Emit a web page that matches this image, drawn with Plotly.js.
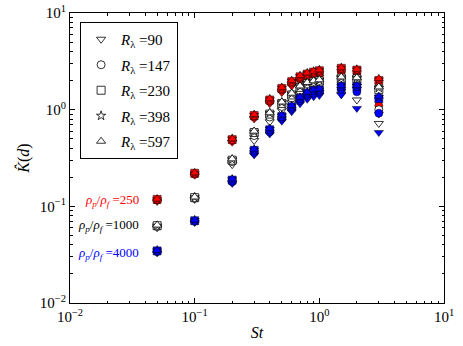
<!DOCTYPE html>
<html>
<head>
<meta charset="utf-8">
<script src="https://cdn.plot.ly/plotly-3.0.1.min.js"></script>
<style>
  html, body { margin: 0; padding: 0; background: #fff; }
  #chart { width: 463px; height: 346px; }
</style>
</head>
<body>
<div id="chart"></div>
<script>
// Stokes numbers on the x axis
const stokes = [0.05, 0.1, 0.2, 0.3, 0.4, 0.5, 0.6, 0.7, 0.8, 0.9, 1.0, 1.5, 2.0, 3.0];

// Reynolds numbers (one marker symbol each) and density ratios (one colour each)
const reynolds = [90, 147, 230, 398, 597];
const densityRatios = [250, 1000, 4000];

// K(d) for rho_p/rho_f = 250, rows follow `reynolds`
const k250 = [
  [0.112, 0.21, 0.46, 0.80, 1.15, 1.50, 1.75, 1.95, 2.05, 2.12, 2.15, 2.10, 1.75, 0.90],
  [0.116, 0.215, 0.48, 0.84, 1.22, 1.60, 1.88, 2.10, 2.22, 2.32, 2.38, 2.45, 2.25, 1.10],
  [0.118, 0.22, 0.49, 0.87, 1.26, 1.66, 1.95, 2.19, 2.34, 2.45, 2.53, 2.68, 2.57, 2.00],
  [0.118, 0.22, 0.50, 0.88, 1.28, 1.68, 1.98, 2.22, 2.38, 2.48, 2.56, 2.70, 2.60, 2.05],
  [0.119, 0.222, 0.50, 0.89, 1.30, 1.70, 2.00, 2.25, 2.40, 2.50, 2.58, 2.72, 2.62, 2.10]
];

// K(d) for rho_p/rho_f = 1000
const k1000 = [
  [0.060, 0.118, 0.27, 0.48, 0.75, 0.98, 1.18, 1.38, 1.45, 1.50, 1.52, 1.45, 1.26, 0.72],
  [0.062, 0.121, 0.29, 0.54, 0.84, 1.08, 1.32, 1.58, 1.70, 1.78, 1.82, 1.90, 1.70, 1.00],
  [0.063, 0.123, 0.30, 0.58, 0.90, 1.16, 1.42, 1.70, 1.85, 1.93, 1.98, 2.12, 2.08, 1.62],
  [0.063, 0.124, 0.305, 0.59, 0.92, 1.19, 1.46, 1.74, 1.89, 1.97, 2.02, 2.16, 2.12, 1.68],
  [0.064, 0.125, 0.31, 0.60, 0.93, 1.20, 1.48, 1.76, 1.91, 1.99, 2.04, 2.18, 2.14, 1.72]
];

// K(d) for rho_p/rho_f = 4000
const k4000 = [
  [0.033, 0.068, 0.172, 0.34, 0.56, 0.76, 0.95, 1.15, 1.28, 1.36, 1.40, 1.42, 1.03, 0.58],
  [0.034, 0.070, 0.18, 0.36, 0.59, 0.81, 1.02, 1.24, 1.40, 1.48, 1.52, 1.62, 1.53, 0.92],
  [0.0346, 0.071, 0.187, 0.38, 0.62, 0.85, 1.07, 1.31, 1.48, 1.57, 1.60, 1.73, 1.73, 1.30],
  [0.035, 0.072, 0.19, 0.385, 0.63, 0.87, 1.09, 1.33, 1.50, 1.59, 1.62, 1.76, 1.76, 1.35],
  [0.035, 0.072, 0.192, 0.39, 0.64, 0.88, 1.10, 1.35, 1.52, 1.61, 1.64, 1.78, 1.78, 1.38]
];

const decadeTicks = [0.01, 0.1, 1, 10];
const decadeLabels = ['10<sup>−2</sup>', '10<sup>−1</sup>', '10<sup>0</sup>', '10<sup>1</sup>'];

const symbols = ['triangle-down', 'circle', 'square', 'star', 'triangle-up'];
const symbolSizes = [8, 8, 8, 7, 8];
const fills = ['#ff0000', '#ffffff', '#0000ff'];
const ratioColors = ['#ff0000', '#000000', '#0000ff'];
const serif = 'Liberation Serif, DejaVu Serif, serif';

function minorTicks() {
  const vals = [];
  for (let e = -2; e < 1; e++) {
    for (let m = 2; m <= 9; m++) vals.push(m * Math.pow(10, e));
  }
  return vals;
}

function buildTraces() {
  const sets = [k250, k1000, k4000];
  const traces = [];
  reynolds.forEach((r, ri) => {
    sets.forEach((set, ci) => {
      traces.push({
        type: 'scatter',
        mode: 'markers',
        x: stokes,
        y: set[ri],
        name: `<i>R</i><sub>λ</sub> =${r}`,
        legendgroup: 'R' + r,
        showlegend: ci === 1,
        marker: {
          symbol: symbols[ri],
          size: symbolSizes[ri],
          color: fills[ci],
          line: { color: '#000000', width: ci === 1 ? 0.8 : 0.5 }
        }
      });
    });
  });
  return traces;
}

function axis(extra) {
  return Object.assign({
    type: 'log',
    range: [-2, 1],
    tickmode: 'array',
    tickvals: decadeTicks,
    ticktext: decadeLabels,
    ticks: 'inside',
    ticklen: 5,
    tickwidth: 1,
    tickcolor: '#000',
    showline: true,
    linecolor: '#000',
    linewidth: 1,
    mirror: 'ticks',
    showgrid: false,
    zeroline: false,
    tickfont: { family: serif, size: 15, color: '#000' },
    minor: { tickmode: 'array', tickvals: minorTicks(), ticks: 'inside', ticklen: 2.5, tickcolor: '#000', showgrid: false }
  }, extra);
}

function ratioNotes() {
  const ys = [0.355, 0.266, 0.169];
  return densityRatios.map((d, i) => ({
    xref: 'paper', yref: 'paper',
    x: 0.19, y: ys[i],
    xanchor: 'right', yanchor: 'middle',
    showarrow: false,
    text: `<i>ρ<sub>p</sub></i>/<i>ρ<sub>f</sub></i> =${d}`,
    font: { family: serif, size: 13, color: ratioColors[i] }
  }));
}

function render() {
  const layout = {
    width: 463,
    height: 346,
    margin: { l: 70, r: 19, t: 13, b: 43 },
    paper_bgcolor: '#ffffff',
    plot_bgcolor: '#ffffff',
    font: { family: serif, color: '#000', size: 15 },
    xaxis: axis({ title: { text: '<i>St</i>', font: { family: serif, size: 16 }, standoff: 2 } }),
    yaxis: axis({ title: { text: '<i>K̂</i>(<i>d</i>)', font: { family: serif, size: 16 }, standoff: 6 } }),
    showlegend: true,
    legend: {
      x: 0.027, y: 0.969, xanchor: 'left', yanchor: 'top',
      bgcolor: '#ffffff', bordercolor: '#000', borderwidth: 1,
      traceorder: 'grouped', tracegroupgap: 3,
      font: { family: serif, size: 15, color: '#000' }
    },
    annotations: ratioNotes()
  };
  Plotly.newPlot('chart', buildTraces(), layout, { displayModeBar: false, staticPlot: true });
}

render();
</script>
</body>
</html>
